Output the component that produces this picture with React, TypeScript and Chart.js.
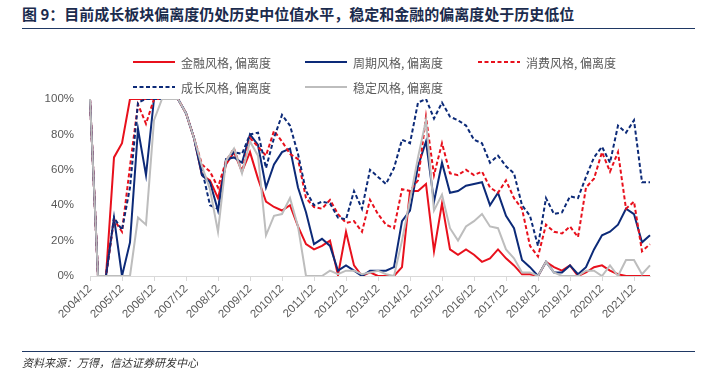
import React, { useEffect, useRef } from "react";
import { Chart, registerables } from "chart.js";

Chart.register(...registerables);

const quarters: string[] = [
  "2004/12",
  "2005/03", "2005/06", "2005/09", "2005/12",
  "2006/03", "2006/06", "2006/09", "2006/12",
  "2007/03", "2007/06", "2007/09", "2007/12",
  "2008/03", "2008/06", "2008/09", "2008/12",
  "2009/03", "2009/06", "2009/09", "2009/12",
  "2010/03", "2010/06", "2010/09", "2010/12",
  "2011/03", "2011/06", "2011/09", "2011/12",
  "2012/03", "2012/06", "2012/09", "2012/12",
  "2013/03", "2013/06", "2013/09", "2013/12",
  "2014/03", "2014/06", "2014/09", "2014/12",
  "2015/03", "2015/06", "2015/09", "2015/12",
  "2016/03", "2016/06", "2016/09", "2016/12",
  "2017/03", "2017/06", "2017/09", "2017/12",
  "2018/03", "2018/06", "2018/09", "2018/12",
  "2019/03", "2019/06", "2019/09", "2019/12",
  "2020/03", "2020/06", "2020/09", "2020/12",
  "2021/03", "2021/06", "2021/09", "2021/12",
  "2022/03", "2022/06",
];

// 金融风格, 偏离度
const financeDev: number[] = [
  100, 0, 0, 67, 75, 100, 100, 100, 100, 100, 100, 100, 92, 78, 57, 54, 44,
  63, 70, 59, 70, 55, 42, 39, 37, 40, 28, 18, 15, 17, 20, 0.5, 25, 6, 0, 2,
  0, 0, 0, 5, 48, 48, 52, 14, 41, 15, 12, 15, 12, 8, 10, 15, 10, 6, 1, 1, 0,
  8, 5, 3, 6, 0, 2, 5, 6, 3, 1, 0, 0, 0, 0,
];

// 周期风格, 偏离度
const cyclicalDev: number[] = [
  100, 0, 0, 33, 0, 19, 83, 57, 100, 100, 100, 100, 92, 78, 57, 53, 37, 66,
  67, 64, 80, 74, 50, 63, 70, 72, 50, 36, 18, 21, 17, 3, 6, 3, 0, 3, 3, 3, 5,
  31, 37, 62, 76, 42, 64, 47, 48, 51, 52, 53, 40, 47, 34, 27, 9, 5, 0, 8, 2,
  2, 6, 1, 5, 15, 23, 25, 29, 38, 35, 19, 23,
];

// 消费风格, 偏离度
const consumerDev: number[] = [
  100, 0, 0, 32, 25, 62, 97, 86, 100, 100, 100, 100, 92, 78, 63, 59, 50, 65,
  72, 59, 78, 73, 68, 82, 76, 69, 66, 44, 39, 38, 43, 35, 30, 31, 25, 43, 35,
  29, 27, 49, 48, 54, 90, 57, 75, 58, 57, 60, 57, 59, 50, 47, 54, 44, 38, 17,
  11, 29, 25, 24, 28, 22, 50, 55, 70, 59, 70, 38, 42, 14, 18,
];

// 成长风格, 偏离度
const growthDev: number[] = [
  100, 0, 0, 33, 26, 50, 98, 100, 100, 100, 100, 100, 92, 78, 60, 40, 38, 64,
  70, 69, 80, 81, 61, 78, 91, 85, 69, 48, 40, 42, 41, 33, 32, 48, 38, 60, 56,
  52, 61, 77, 75, 98, 100, 89, 98, 90, 88, 85, 77, 75, 64, 68, 62, 58, 40,
  34, 17, 44, 35, 36, 45, 44, 56, 67, 73, 64, 85, 81, 88, 53, 53,
];

// 稳定风格, 偏离度
const stableDev: number[] = [
  100, 0, 0, 0, 0, 0, 33, 29, 88, 100, 100, 100, 92, 78, 62, 49, 25, 65, 72,
  58, 76, 68, 23, 34, 35, 44, 28, 0, 0, 0, 3, 1, 3, 3, 1, 2, 3, 1, 0, 20, 43,
  67, 88, 37, 46, 27, 20, 28, 31, 35, 28, 27, 15, 10, 2, 2, 0, 8, 2, 0, 0, 0,
  3, 3, 0, 6, 0, 9, 9, 1, 6,
];

const yTicks: number[] = [0, 20, 40, 60, 80, 100];

const RED = "#e8101c";
const NAVY = "#0c2a78";
const GREY = "#bdbdbd";

const legendItems = [
  { label: "金融风格, 偏离度", color: RED, dash: false, x: 133, y: 62 },
  { label: "周期风格, 偏离度", color: NAVY, dash: false, x: 305, y: 62 },
  { label: "消费风格, 偏离度", color: RED, dash: true, x: 478, y: 62 },
  { label: "成长风格, 偏离度", color: NAVY, dash: true, x: 133, y: 87 },
  { label: "稳定风格, 偏离度", color: GREY, dash: false, x: 305, y: 87 },
];

const CJK = '"Noto Sans CJK SC", "Noto Sans", sans-serif';

export default function App() {
  const canvasRef = useRef<HTMLCanvasElement | null>(null);

  useEffect(() => {
    const canvas = canvasRef.current;
    if (!canvas) return;
    const mk = (label: string, data: number[], color: string, dash: boolean, order: number) => ({
      label,
      data,
      borderColor: color,
      backgroundColor: color,
      borderWidth: 2,
      borderDash: dash ? [4, 2.5] : [],
      pointRadius: 0,
      tension: 0,
      fill: false,
      order,
    });
    const chart = new Chart(canvas, {
      type: "line",
      data: {
        labels: quarters,
        datasets: [
          mk("金融风格, 偏离度", financeDev, RED, false, 5),
          mk("周期风格, 偏离度", cyclicalDev, NAVY, false, 4),
          mk("消费风格, 偏离度", consumerDev, RED, true, 3),
          mk("成长风格, 偏离度", growthDev, NAVY, true, 2),
          mk("稳定风格, 偏离度", stableDev, GREY, false, 1),
        ],
      },
      options: {
        animation: false,
        responsive: false,
        maintainAspectRatio: false,
        devicePixelRatio: 1,
        layout: { padding: { left: 0, top: 99, right: 55, bottom: 44 } },
        plugins: { legend: { display: false }, tooltip: { enabled: false } },
        scales: {
          x: {
            type: "category",
            offset: false,
            grid: {
              display: true,
              drawOnChartArea: false,
              drawTicks: true,
              tickLength: 5,
              color: "#d9d9d9",
            },
            border: { display: true, color: "#d9d9d9", width: 1 },
            ticks: {
              autoSkip: false,
              maxRotation: 45,
              minRotation: 45,
              padding: 1,
              color: "#595959",
              font: { family: '"Liberation Sans", Arial, sans-serif', size: 11.5 },
              callback: (_v: any, i: number) =>
                quarters[i].endsWith("/12") ? quarters[i] : null,
            },
            afterFit: (s: any) => {
              s.height = 60;
            },
          },
          y: {
            min: 0,
            max: 100,
            afterBuildTicks: (s: any) => {
              s.ticks = yTicks.map((v) => ({ value: v }));
            },
            grid: { display: false },
            border: { display: false },
            ticks: {
              padding: 8,
              color: "#595959",
              font: { family: '"Liberation Sans", Arial, sans-serif', size: 11.5 },
              callback: (v: any) => v + "%",
            },
            afterFit: (s: any) => {
              s.width = 90;
            },
          },
        },
      },
    });
    return () => chart.destroy();
  }, []);

  return (
    <div
      style={{
        position: "absolute",
        left: 0,
        top: 0,
        width: 705,
        height: 380,
        background: "#fff",
        overflow: "hidden",
        fontFamily: CJK,
      }}
    >
      <div
        style={{
          position: "absolute",
          left: 22,
          top: 4,
          fontSize: 15,
          fontWeight: 700,
          color: "#1b2b4d",
          whiteSpace: "nowrap",
          lineHeight: "20px",
        }}
      >
        图 9：目前成长板块偏离度仍处历史中位值水平，稳定和金融的偏离度处于历史低位
      </div>
      <div
        style={{
          position: "absolute",
          left: 22,
          top: 28,
          width: 673,
          height: 0,
          borderTop: "1.5px solid #1f3864",
        }}
      />
      <canvas
        ref={canvasRef}
        width={705}
        height={380}
        style={{ position: "absolute", left: 0, top: 0, width: 705, height: 380 }}
      />
      {legendItems.map((it) => (
        <div
          key={it.label}
          style={{
            position: "absolute",
            left: it.x,
            top: it.y - 10,
            height: 20,
            display: "flex",
            alignItems: "center",
            whiteSpace: "nowrap",
          }}
        >
          <svg width={42} height={6} style={{ display: "block" }}>
            <line
              x1={0}
              y1={3}
              x2={42}
              y2={3}
              stroke={it.color}
              strokeWidth={2}
              strokeDasharray={it.dash ? "4 2.5" : undefined}
            />
          </svg>
          <span style={{ marginLeft: 6, fontSize: 12, color: "#595959" }}>{it.label}</span>
        </div>
      ))}
      <div
        style={{
          position: "absolute",
          left: 22,
          top: 351,
          width: 673,
          height: 0,
          borderTop: "1.5px solid #1f3864",
        }}
      />
      <div
        style={{
          position: "absolute",
          left: 22,
          top: 354,
          fontSize: 11,
          fontStyle: "italic",
          color: "#333",
          whiteSpace: "nowrap",
          lineHeight: "16px",
        }}
      >
        资料来源：万得，信达证券研发中心
      </div>
    </div>
  );
}
